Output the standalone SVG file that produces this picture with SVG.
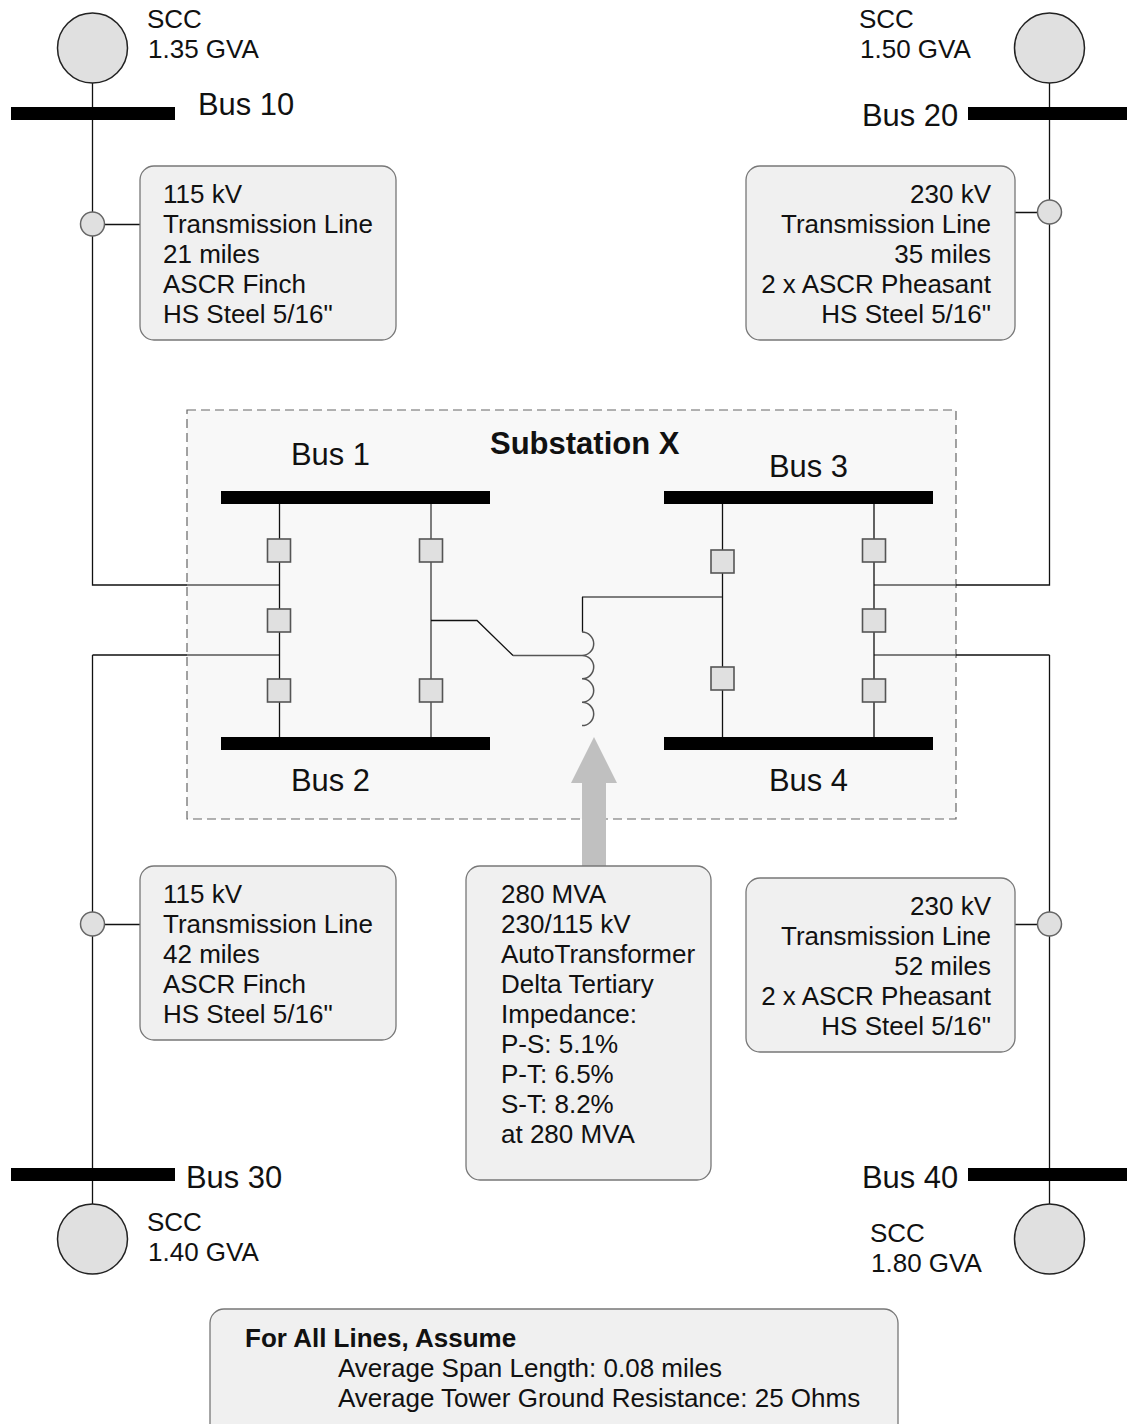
<svg xmlns="http://www.w3.org/2000/svg" width="1127" height="1424" viewBox="0 0 1127 1424">
<defs><style>
text{font-family:"Liberation Sans",Arial,sans-serif;font-size:26px;fill:#111}
.bus{font-size:30.9px}
.bold{font-weight:bold;font-size:26px}
.end{text-anchor:end}
.box{fill:#f0f0f0;stroke:#777;stroke-width:1.3}
.src{fill:#e0e0e0;stroke:#222;stroke-width:1.5}
.ct{fill:#e0e0e0;stroke:#666;stroke-width:1.5}
.brk{fill:#e0e0e0;stroke:#555;stroke-width:1.6}
.bar{fill:#000}
.ln{fill:none;stroke:#111;stroke-width:1.3}
.gl{fill:none;stroke:#555;stroke-width:1.5}
</style></defs>
<rect width="1127" height="1424" fill="#fff"/>
<g id="substation"><rect x="187" y="410" width="769" height="409" fill="#f8f8f8" stroke="#666" stroke-width="1.2" stroke-dasharray="9 5"/>
<text class="bold" x="490" y="454" style="font-size:31px">Substation X</text></g>
<g id="connectors">
<path class="ln" d="M92.500 48V585H187M92.500 655V1239M92.500 655H187M1049.500 48V585H956M1049.500 655V1239M1049.500 655H956"/>
<path class="ln" d="M93 224.500H140M1049 212.500H1015M93 924.500H140M1049 924.500H1015"/>
<path class="gl" d="M187 585H279M187 655H279M956 585H874M956 655H874"/>
<path class="ln" d="M279.500 498V743M874 498V743M722.500 498V743"/>
<path class="gl" d="M431 498V743"/>
<path class="ln" d="M431 620.500H477L513 655.500"/>
<path class="gl" d="M513 655.500H582M582 597H722"/>
<path class="ln" d="M582.500 597V632"/>
<path class="gl" d="M582 632a11.700 11.700 0 0 1 0 23.400a11.700 11.700 0 0 1 0 23.400a11.700 11.700 0 0 1 0 23.400a11.700 11.700 0 0 1 0 23.400"/>
</g>
<g id="transformer-arrow"><path d="M582 866V783H571L594 737L617 783H606V866Z" fill="#c0c0c0"/></g>
<g id="bus-10"><rect class="bar" x="11" y="107" width="164" height="13"/><text class="bus" x="198" y="115">Bus 10</text></g>
<g id="bus-20"><rect class="bar" x="968" y="107" width="159" height="13"/><text class="bus" x="862" y="126">Bus 20</text></g>
<g id="bus-30"><rect class="bar" x="11" y="1168" width="164" height="13"/><text class="bus" x="186" y="1188">Bus 30</text></g>
<g id="bus-40"><rect class="bar" x="968" y="1168" width="159" height="13"/><text class="bus" x="862" y="1188">Bus 40</text></g>
<g id="bus-1"><rect class="bar" x="221" y="491" width="269" height="13"/><text class="bus" x="291" y="465">Bus 1</text></g>
<g id="bus-2"><rect class="bar" x="221" y="737" width="269" height="13"/><text class="bus" x="291" y="791">Bus 2</text></g>
<g id="bus-3"><rect class="bar" x="664" y="491" width="269" height="13"/><text class="bus" x="769" y="477">Bus 3</text></g>
<g id="bus-4"><rect class="bar" x="664" y="737" width="269" height="13"/><text class="bus" x="769" y="791">Bus 4</text></g>
<g id="source-10"><circle class="src" cx="92.500" cy="48" r="35"/><text x="147" y="28">SCC</text><text x="148" y="58">1.35 GVA</text></g>
<g id="source-20"><circle class="src" cx="1049.500" cy="48" r="35"/><text x="859" y="28">SCC</text><text x="860" y="58">1.50 GVA</text></g>
<g id="source-30"><circle class="src" cx="92.500" cy="1239" r="35"/><text x="147" y="1231">SCC</text><text x="148" y="1261">1.40 GVA</text></g>
<g id="source-40"><circle class="src" cx="1049.500" cy="1239" r="35"/><text x="870" y="1242">SCC</text><text x="871" y="1272">1.80 GVA</text></g>
<g id="breakers-1-2">
<rect class="brk" x="267.500" y="539" width="23" height="23"/><rect class="brk" x="267.500" y="609" width="23" height="23"/><rect class="brk" x="267.500" y="679" width="23" height="23"/>
<rect class="brk" x="419.500" y="539" width="23" height="23"/><rect class="brk" x="419.500" y="679" width="23" height="23"/></g>
<g id="breakers-3-4">
<rect class="brk" x="711" y="550" width="23" height="23"/><rect class="brk" x="711" y="667" width="23" height="23"/>
<rect class="brk" x="862.500" y="539" width="23" height="23"/><rect class="brk" x="862.500" y="609" width="23" height="23"/><rect class="brk" x="862.500" y="679" width="23" height="23"/></g>
<g id="line-10-30"><circle class="ct" cx="92.500" cy="224" r="12"/><rect class="box" x="140" y="166" width="256" height="174" rx="14"/>
<text x="163" y="203">115 kV</text><text x="163" y="233">Transmission Line</text><text x="163" y="263">21 miles</text><text x="163" y="293">ASCR Finch</text><text x="163" y="323">HS Steel 5/16"</text></g>
<g id="line-20-3"><circle class="ct" cx="1049.500" cy="212" r="12"/><rect class="box" x="746" y="166" width="269" height="174" rx="14"/>
<text class="end" x="991" y="203">230 kV</text><text class="end" x="991" y="233">Transmission Line</text><text class="end" x="991" y="263">35 miles</text><text class="end" x="991" y="293">2 x ASCR Pheasant</text><text class="end" x="991" y="323">HS Steel 5/16"</text></g>
<g id="line-30-2"><circle class="ct" cx="92.500" cy="924" r="12"/><rect class="box" x="140" y="866" width="256" height="174" rx="14"/>
<text x="163" y="903">115 kV</text><text x="163" y="933">Transmission Line</text><text x="163" y="963">42 miles</text><text x="163" y="993">ASCR Finch</text><text x="163" y="1023">HS Steel 5/16"</text></g>
<g id="line-40-4"><circle class="ct" cx="1049.500" cy="924" r="12"/><rect class="box" x="746" y="878" width="269" height="174" rx="14"/>
<text class="end" x="991" y="915">230 kV</text><text class="end" x="991" y="945">Transmission Line</text><text class="end" x="991" y="975">52 miles</text><text class="end" x="991" y="1005">2 x ASCR Pheasant</text><text class="end" x="991" y="1035">HS Steel 5/16"</text></g>
<g id="transformer-box"><rect class="box" x="466" y="866" width="245" height="314" rx="14"/>
<text x="501" y="903">280 MVA</text><text x="501" y="933">230/115 kV</text><text x="501" y="963">AutoTransformer</text><text x="501" y="993">Delta Tertiary</text><text x="501" y="1023">Impedance:</text><text x="501" y="1053">P-S: 5.1%</text><text x="501" y="1083">P-T: 6.5%</text><text x="501" y="1113">S-T: 8.2%</text><text x="501" y="1143">at 280 MVA</text></g>
<g id="assumptions"><rect class="box" x="210" y="1309" width="688" height="130" rx="14"/>
<text class="bold" x="245" y="1347">For All Lines, Assume</text><text x="338" y="1377">Average Span Length: 0.08 miles</text><text x="338" y="1407">Average Tower Ground Resistance: 25 Ohms</text></g>
</svg>
